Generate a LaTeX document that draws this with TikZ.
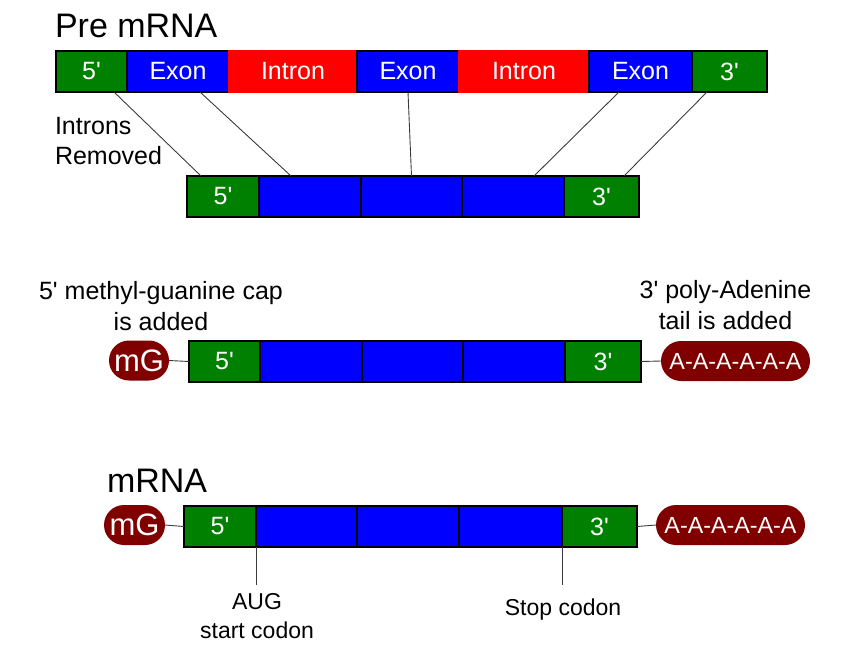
\documentclass[tikz,border=0pt]{standalone}
\usepackage{fontspec}
\setmainfont{Liberation Sans}
\newcommand\lblfont{\fontsize{25}{30.7}\selectfont}
\newcommand\ttlfont{\fontsize{34}{40}\selectfont}
\newcommand\smlfont{\fontsize{23}{29}\selectfont}
\newcommand\capfont{\fontsize{31}{36}\selectfont}
\newcommand\tailfont{\fontsize{23.3}{28}\selectfont}
\newcommand\pr{\textquotesingle}
\definecolor{gr}{RGB}{0,128,0}
\definecolor{bl}{RGB}{0,0,255}
\definecolor{rd}{RGB}{255,0,0}
\definecolor{mr}{RGB}{128,0,0}
\definecolor{ln}{RGB}{60,60,60}
\tikzset{
  seg/.style={draw=black, line width=1.4pt, inner sep=0pt, outer sep=0pt,
    minimum height=41pt, anchor=north west, text=white, font=\lblfont},
  g/.style={seg, fill=gr},
  b/.style={seg, fill=bl},
  r/.style={seg, fill=rd, draw=rd},
  pill/.style={fill=mr, draw=none, text=white, inner sep=0pt, outer sep=0pt,
    minimum height=40pt, rounded corners=20pt},
  conn/.style={draw=ln, line width=0.9pt},
  lbl/.style={text=black, inner sep=0pt, outer sep=0pt}
}
\begin{document}
\begin{tikzpicture}[x=1pt,y=-1pt]
\useasboundingbox (0,0) rectangle (853,654);
% titles
\node[lbl, font=\ttlfont, anchor=base west] (t1) at (55,37) {Pre mRNA};
\node[lbl, font=\ttlfont, anchor=base west] (t2) at (107,492.7) {mRNA};
% row 1 : pre mRNA
\node[g, minimum width=71pt] (p5) at (56,51) {5\pr};
\node[b, minimum width=102pt] (pe1) at (127,51) {\raisebox{2pt}{Exon}};
\node[r, minimum width=128pt] (pi1) at (229,51) {Intron};
\node[b, minimum width=102pt] (pe2) at (357,51) {\raisebox{2pt}{Exon}};
\node[r, minimum width=130pt] (pi2) at (459,51) {Intron};
\node[b, minimum width=103pt] (pe3) at (589,51) {Exon};
\node[g, minimum width=75pt] (p3) at (692,51) {3\pr};
% row 2
\node[g, minimum width=72pt] (s5) at (187,176) {5\pr};
\node[b, minimum width=102pt] (sb1) at (259,176) {};
\node[b, minimum width=101pt] (sb2) at (361,176) {};
\node[b, minimum width=102pt] (sb3) at (462,176) {};
\node[g, minimum width=75pt] (s3) at (564,176) {3\pr};
% splice connectors
\draw[conn] ([xshift=-13pt]p5.south east) -- ([xshift=14pt]s5.north west);
\draw[conn] ([xshift=73pt]pe1.south west) -- ([xshift=32pt]sb1.north west);
\draw[conn] (pe2.south) -- (sb2.north);
\draw[conn] ([xshift=30pt]pe3.south west) -- ([xshift=72pt]sb3.north west);
\draw[conn] ([xshift=15pt]p3.south west) -- ([xshift=60pt]s3.north west);
\node[lbl, font=\lblfont, align=left, anchor=north west] (intr) at (55,117) {Introns\\Removed};
% row 3
\node[lbl, font=\lblfont, align=center, anchor=north] (capl) at (161,281.4) {5\pr{} methyl-guanine cap\\is added};
\node[lbl, font=\lblfont, align=center, anchor=north] (taill) at (725.5,280.4) {3\pr{} poly-Adenine\\tail is added};
\node[pill, font=\capfont, minimum width=60pt] (cap1) at (139,360.5) {mG};
\node[g, minimum width=71pt] (c5) at (189,341) {5\pr};
\node[b, minimum width=102pt] (cb1) at (260,341) {};
\node[b, minimum width=101pt] (cb2) at (362,341) {};
\node[b, minimum width=102pt] (cb3) at (463,341) {};
\node[g, minimum width=76pt] (c3) at (565,341) {3\pr};
\node[pill, font=\tailfont, minimum width=149pt] (tail1) at (735.5,361) {A-A-A-A-A-A};
\draw[conn] (cap1.east) -- (c5.west);
\draw[conn] (c3.east) -- (tail1.west);
% row 4 : mRNA
\node[pill, font=\capfont, minimum width=61pt] (cap2) at (134.5,525) {mG};
\node[g, minimum width=72pt] (m5) at (184,506) {5\pr};
\node[b, minimum width=101pt] (mb1) at (256,506) {};
\node[b, minimum width=102pt] (mb2) at (357,506) {};
\node[b, minimum width=103pt] (mb3) at (459,506) {};
\node[g, minimum width=75pt] (m3) at (562,506) {3\pr};
\node[pill, font=\tailfont, minimum width=149pt] (tail2) at (730.5,525) {A-A-A-A-A-A};
\draw[conn] (cap2.east) -- (m5.west);
\draw[conn] (m3.east) -- (tail2.west);
% codon labels
\node[lbl, font=\smlfont, align=center, anchor=north] (aug) at (257,593.5) {AUG\\start codon};
\node[lbl, font=\smlfont, anchor=base] (stop) at (563,615.7) {Stop codon};
\coordinate (augend) at (256,585);
\coordinate (stopend) at (562,585);
\draw[conn] (m5.south east) -- (augend);
\draw[conn] (m3.south west) -- (stopend);
\end{tikzpicture}
\end{document}
